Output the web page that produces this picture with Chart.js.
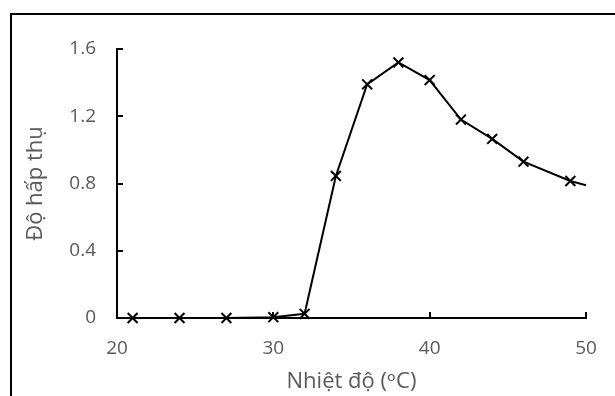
<!DOCTYPE html>
<html>
<head>
<meta charset="utf-8">
<script src="https://cdn.jsdelivr.net/npm/chart.js@4/dist/chart.umd.min.js"></script>
<style>
  html, body { margin: 0; padding: 0; background: #fff; overflow: hidden; }
  #frame { position: absolute; left: 10px; top: 13px; width: 700px; height: 500px; border: 2px solid #000; }
  #myChart { position: absolute; left: 0; top: 0; }
</style>
</head>
<body>
<div id="frame"></div>
<canvas id="myChart" width="615" height="396"></canvas>
<script>
// nhiet do (oC) va do hap thu
var temps = [21, 24, 27, 30, 32, 34, 36, 38, 40, 42, 44, 46, 49, 50];
var absorb = [0, 0, 0, 0.005, 0.025, 0.845, 1.39, 1.52, 1.415, 1.18, 1.065, 0.93, 0.815, 0.79];
var xTicks = [20, 30, 40, 50];
var yTicks = [0, 0.4, 0.8, 1.2, 1.6];

var textColor = '#595959';
var fontFam = "'Open Sans', 'DejaVu Sans', sans-serif";

// ultimo punto senza marker
var radii = temps.map((t, i) => i == temps.length - 1 ? 0 : 7);

var points = temps.map((t, i) => ({x: t, y: absorb[i]}));

const ctx = document.getElementById('myChart').getContext('2d');
var myChart = new Chart(ctx, {
  type: 'line',
  data: {
    datasets: [{
      data: points,
      borderColor: '#000',
      backgroundColor: '#000',
      borderWidth: 2,
      pointStyle: 'crossRot',
      pointRadius: radii,
      pointBorderWidth: 2,
      pointBorderColor: '#000',
      tension: 0,
      clip: false
    }]
  },
  options: {
    responsive: false,
    animation: false,
    devicePixelRatio: 1,
    layout: { padding: { left: 0, right: 29, top: 49, bottom: 0 } },
    plugins: { legend: { display: false }, tooltip: { enabled: false } },
    scales: {
      x: {
        type: 'linear',
        min: 20, max: 50,
        afterFit: s => { s.height = 78; s.paddingRight = 10; s.paddingLeft = 10; },
        afterBuildTicks: s => { s.ticks = xTicks.map(v => ({value: v})); },
        border: { color: '#000', width: 2 },
        grid: { drawOnChartArea: false, drawTicks: true, tickLength: -6, color: '#000', lineWidth: 2 },
        ticks: { color: textColor, padding: 25, font: { family: fontFam, size: 19, weight: 'normal' } },
        title: { display: true, text: 'Nhiệt độ (ᵒC)', color: textColor, padding: { top: 0, bottom: 1 },
                 font: { family: fontFam, size: 22, weight: 'normal' } }
      },
      y: {
        min: 0, max: 1.6,
        afterFit: s => { s.width = 117; },
        afterBuildTicks: s => { s.ticks = yTicks.map(v => ({value: v})); },
        border: { color: '#000', width: 2 },
        grid: { drawOnChartArea: false, drawTicks: true, tickLength: -6, color: '#000', lineWidth: 2 },
        ticks: { color: textColor, padding: 27, font: { family: fontFam, size: 19, weight: 'normal' },
                 callback: v => String(v) },
        title: { display: true, text: 'Độ hấp thụ', color: textColor, padding: { top: 23, bottom: 0 },
                 font: { family: fontFam, size: 22, weight: 'normal' } }
      }
    }
  }
});
</script>
</body>
</html>
